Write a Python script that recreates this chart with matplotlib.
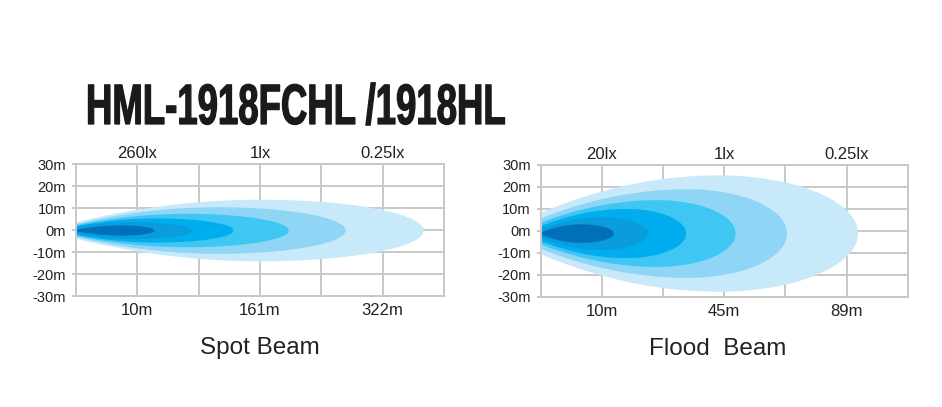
import numpy as np
import matplotlib
matplotlib.use('Agg')
import matplotlib.pyplot as plt
from matplotlib import font_manager, patheffects
from matplotlib.transforms import Affine2D

# 数据: 每一层光斑 (从外到内)
colors = ['#c8e9f9', '#8fd6f6', '#40c6f2', '#00aeef', '#0a9cdc', '#0070b9']

spot_reach = [5.66, 4.39, 3.46, 2.56, 1.90, 1.27]
spot_width = [14.0, 10.6, 7.6, 5.5, 3.8, 2.3]
spot_peak = [3.0, 2.3, 1.8, 1.3, 0.9, 0.75]
spot_base = [3.8, 3.0, 2.5, 2.0, 1.5, 0.4]

flood_reach = [5.18, 4.02, 3.18, 2.37, 1.75, 1.19]
flood_width = [26.5, 20.2, 15.2, 11.2, 7.5, 4.2]
flood_peak = [2.9, 2.4, 1.9, 1.4, 1.0, 0.65]
flood_base = [9.5, 7.0, 5.0, 3.5, 2.0, 0.5]

spot_top = ['260lx', '1lx', '0.25lx']
spot_bottom = ['10m', '161m', '322m']
flood_top = ['20lx', '1lx', '0.25lx']
flood_bottom = ['10m', '45m', '89m']
y_ticks = [30, 20, 10, 0, -10, -20, -30]

title = 'HML-1918FCHL /1918HL'

names = {f.name for f in font_manager.fontManager.ttflist}
label_font = 'Liberation Sans' if 'Liberation Sans' in names else 'DejaVu Sans'
plt.rcParams['font.family'] = [label_font, 'DejaVu Sans']

grid_c = '#c8c8c8'
text_c = '#222222'


class SqueezeStroke(patheffects.Stroke):
    # 横向压缩文字 (标题是窄体粗字)
    def __init__(self, sx, x0, **kw):
        super().__init__(**kw)
        self.sx = sx
        self.x0 = x0

    def draw_path(self, renderer, gc, tpath, affine, rgbFace=None):
        aff = affine + Affine2D().translate(-self.x0, 0).scale(self.sx, 1).translate(self.x0, 0)
        gc0 = renderer.new_gc()
        gc0.copy_properties(gc)
        gc0 = self._update_gc(gc0, self._gc)
        renderer.draw_path(gc0, tpath, aff, rgbFace)
        gc0.restore()


def beam(ax, reach, width, peak, base, center, top, bottom, name, name_x):
    for L, B, P, H0, c in zip(reach, width, peak, base, colors):
        x = np.linspace(0, L, 400)
        h = np.where(
            x <= P,
            H0 + (B - H0) * (1 - (1 - x / P) ** 2),
            B * np.sqrt(np.clip(1 - ((x - P) / (L - P)) ** 2, 0, 1)),
        )
        ax.fill_between(x, center - h, center + h, color=c, lw=0, zorder=2)
    ax.set_xlim(0, 6)
    ax.set_ylim(-30, 30)
    ax.set_xticks(range(1, 6))
    ax.set_xticklabels([bottom[0], '', bottom[1], '', bottom[2]], fontsize=12)
    ax.set_yticks(y_ticks)
    ax.set_yticklabels([f'{v}m' for v in y_ticks], fontsize=10.5)
    ax.grid(True, color=grid_c, lw=1.4, zorder=1)
    ax.set_axisbelow(True)
    ax.tick_params(axis='x', length=0, pad=5, colors=text_c)
    ax.tick_params(axis='y', length=3, width=1.4, color=grid_c, pad=4, labelcolor=text_c)
    for s in ax.spines.values():
        s.set_color(grid_c)
        s.set_linewidth(1.4)
    sec = ax.secondary_xaxis('top')
    sec.set_xticks([1, 3, 5])
    sec.set_xticklabels(top, fontsize=12)
    sec.tick_params(length=0, pad=2, colors=text_c)
    sec.spines['top'].set_visible(False)
    ax.text(name_x, -0.44, name, transform=ax.get_xaxis_transform(), ha='center',
            va='baseline', fontsize=17.5, color=text_c)


fig = plt.figure(figsize=(9.42, 4.07), dpi=100)
ax1 = fig.add_axes([0.0807, 0.2727, 0.3907, 0.3243])
ax2 = fig.add_axes([0.574, 0.2710, 0.3896, 0.3236])

beam(ax1, spot_reach, spot_width, spot_peak, spot_base, 0.0,
     spot_top, spot_bottom, 'Spot Beam', 3.0)
beam(ax2, flood_reach, flood_width, flood_peak, flood_base, -1.0,
     flood_top, flood_bottom, 'Flood  Beam', 2.9)

# 标题
x0 = 86
t = fig.text(x0 / 942, 1 - 124 / 407, title, fontweight='bold', fontsize=41,
             color='#1a1a1a', ha='left', va='baseline')
fig.canvas.draw()
w = t.get_window_extent().width
t.set_path_effects([SqueezeStroke(420 / w, x0, linewidth=0.9, foreground='#1a1a1a')])

fig.savefig('out.png', dpi=100)
